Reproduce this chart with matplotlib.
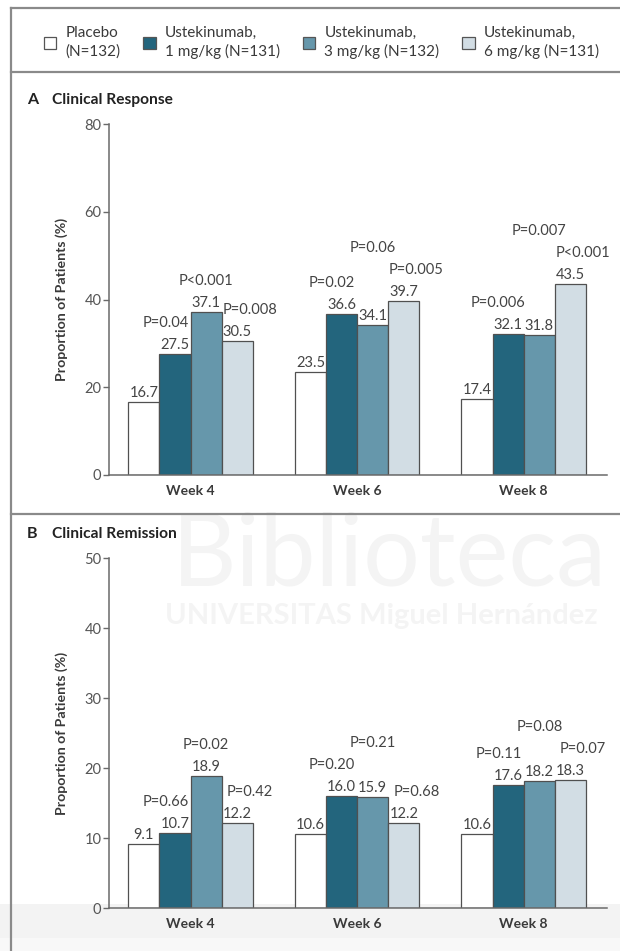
import matplotlib.pyplot as plt
import numpy as np
from matplotlib.patches import Patch, Rectangle
from matplotlib.lines import Line2D

plt.rcParams["font.family"] = ["Lato", "DejaVu Sans"]

weeks = ["Week 4", "Week 6", "Week 8"]
groups = ["Placebo\n(N=132)", "Ustekinumab,\n1 mg/kg (N=131)",
          "Ustekinumab,\n3 mg/kg (N=132)", "Ustekinumab,\n6 mg/kg (N=131)"]
colors = ["#ffffff", "#23657d", "#6697ab", "#d2dde4"]

response = [
    [16.7, 23.5, 17.4],
    [27.5, 36.6, 32.1],
    [37.1, 34.1, 31.8],
    [30.5, 39.7, 43.5],
]
response_p = [
    [None, None, None],
    ["P=0.04", "P=0.02", "P=0.006"],
    ["P<0.001", "P=0.06", "P=0.007"],
    ["P=0.008", "P=0.005", "P<0.001"],
]
remission = [
    [9.1, 10.6, 10.6],
    [10.7, 16.0, 17.6],
    [18.9, 15.9, 18.2],
    [12.2, 12.2, 18.3],
]
remission_p = [
    [None, None, None],
    ["P=0.66", "P=0.20", "P=0.11"],
    ["P=0.02", "P=0.21", "P=0.08"],
    ["P=0.42", "P=0.68", "P=0.07"],
]

W, H, DPI = 620, 951, 100
fig = plt.figure(figsize=(W / DPI, H / DPI), dpi=DPI)

TXT = "#3a3a3a"
AX = "#6a6a6a"
FS = 10.5

# background band and frame lines
fig.patches.append(Rectangle((0, 0), 1, 47 / H, transform=fig.transFigure,
                             facecolor="#f3f3f3", edgecolor="none", zorder=-5))
fig.patches.append(Rectangle((0, 0), 1, 13 / H, transform=fig.transFigure,
                             facecolor="#f8f8f8", edgecolor="none", zorder=-4))
for y in [8, 72, 514]:
    fig.lines.append(Line2D([11 / W, 1], [1 - y / H] * 2, transform=fig.transFigure,
                            color="#8a8a8a", lw=1.6))
fig.lines.append(Line2D([11 / W] * 2, [0, 1 - 8 / H], transform=fig.transFigure,
                        color="#8a8a8a", lw=1.6))

# faint watermark
fig.text(172 / W, 1 - 585 / H, "Biblioteca", fontsize=72, color="#f4f4f4",
         zorder=-3, va="baseline")
fig.text(165 / W, 1 - 624 / H, "UNIVERSITAS Miguel Hernández", fontsize=21,
         color="#f4f4f4", zorder=-3, va="baseline", fontweight="bold")

# legend
handles = [Patch(facecolor=c, edgecolor="#555555", linewidth=0.9) for c in colors]
fig.legend(handles, groups, loc="upper left", bbox_to_anchor=(44 / W, 1 - 26 / H),
           ncol=4, frameon=False, fontsize=11, handlelength=0.8, handleheight=0.8,
           handletextpad=0.6, columnspacing=1.5, labelcolor=TXT, borderaxespad=0,
           borderpad=0, labelspacing=0.3)
for t in fig.legends[0].get_texts():
    t.set_linespacing(1.35)

x = np.arange(len(weeks))
bw = 0.187
line_pt = 15.8
gap_pt = 1.5
p_dx = [0, -7, 0, 9]


def panel(ax, values, pvals, ymax, step, letter, title, title_y):
    for i in range(4):
        ax.bar(x + (i - 1.5) * bw, values[i], bw, color=colors[i],
               edgecolor="#505050", linewidth=0.9, zorder=2)
    ax.set_xlim(-0.49, 2.5)
    ax.set_ylim(0, ymax)
    ax.set_yticks(np.arange(0, ymax + 1, step))
    ax.set_xticks(x)
    ax.set_xticklabels(weeks, fontweight="bold", fontsize=10, color=TXT)
    ax.tick_params(axis="x", length=0, pad=7)
    ax.tick_params(axis="y", length=4, width=1, color=AX, labelcolor="#555555",
                   labelsize=FS, pad=1.5)
    for s in ["top", "right"]:
        ax.spines[s].set_visible(False)
    for s in ["left", "bottom"]:
        ax.spines[s].set_color(AX)
        ax.spines[s].set_linewidth(1.1)
    ax.set_facecolor("none")
    ax.set_ylabel("Proportion of Patients (%)", fontweight="bold", fontsize=10.2,
                  color=TXT, labelpad=12)

    pt_per_unit = ax.get_window_extent().height / ymax * 72 / DPI
    for j in range(len(weeks)):
        # P label heights in points above baseline; the middle one is lifted
        # over its neighbours when they would collide
        p_y = {}
        for i in [1, 3, 2]:
            natural = values[i][j] * pt_per_unit + gap_pt + line_pt
            if i == 2:
                natural = max(natural, max(p_y[1], p_y[3]) + line_pt)
            p_y[i] = natural
        for i in range(4):
            xc = x[j] + (i - 1.5) * bw
            ax.annotate(f"{values[i][j]:.1f}", (xc, values[i][j]), xytext=(0, gap_pt),
                        textcoords="offset points", ha="center", va="bottom",
                        fontsize=FS, color="#444444")
            if pvals[i][j]:
                dy = p_y[i] - values[i][j] * pt_per_unit
                ax.annotate(pvals[i][j], (xc, values[i][j]), xytext=(p_dx[i], dy),
                            textcoords="offset points", ha="center", va="bottom",
                            fontsize=FS, color="#444444")

    fig.text(27 / W, 1 - title_y / H, letter, fontweight="bold", fontsize=11.5,
             color="#222222", va="center")
    fig.text(52 / W, 1 - title_y / H, title, fontweight="bold", fontsize=11.2,
             color="#222222", va="center")


ax_a = fig.add_axes([109 / W, 1 - 475 / H, 498 / W, 351 / H])
ax_b = fig.add_axes([109 / W, 1 - 908 / H, 498 / W, 350 / H])
panel(ax_a, response, response_p, 80, 20, "A", "Clinical Response", 100)
panel(ax_b, remission, remission_p, 50, 10, "B", "Clinical Remission", 534)

fig.savefig("out.png", dpi=DPI)
